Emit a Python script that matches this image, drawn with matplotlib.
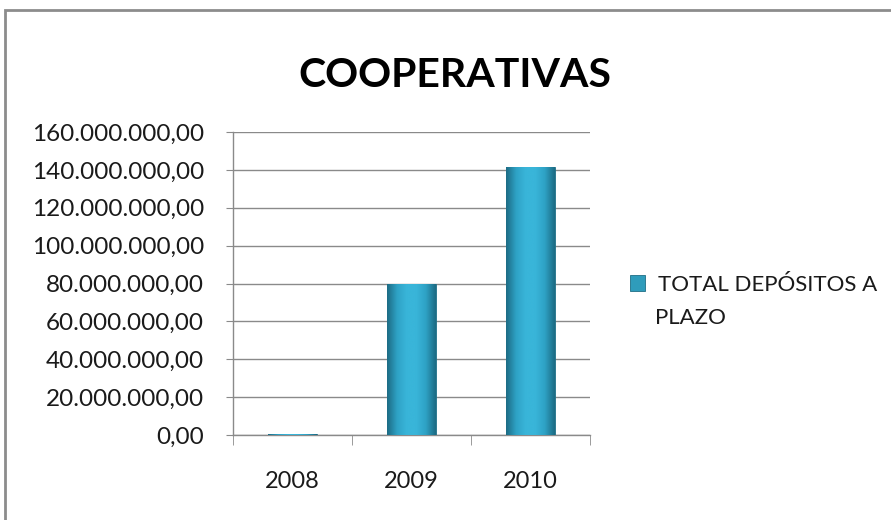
import matplotlib

matplotlib.use("Agg")
import matplotlib.pyplot as plt
import numpy as np
from matplotlib.colors import LinearSegmentedColormap
from matplotlib.patches import Rectangle
from matplotlib.ticker import FuncFormatter

# --- data ---
years = ["2008", "2009", "2010"]
total_depositos = [500000, 80000000, 141500000]
y_ticks = [0, 20e6, 40e6, 60e6, 80e6, 100e6, 120e6, 140e6, 160e6]
series_label = "TOTAL DEPÓSITOS A"
series_label_2 = "PLAZO"
title = "COOPERATIVAS"

plt.rcParams["font.family"] = ["Lato", "DejaVu Sans"]


def es_format(v, pos=None):
    s = f"{v:,.2f}"
    return s.replace(",", "X").replace(".", ",").replace("X", ".")


fig = plt.figure(figsize=(8.91, 5.20), dpi=100)
ax = fig.add_axes([0.2615, 0.1635, 0.4005, 0.5825])

# frame around the whole chart
fig.patches.append(
    Rectangle((0.006, -0.02), 1.0, 1.001, transform=fig.transFigure,
              fill=False, edgecolor="#8c8c8c", linewidth=2)
)

x = np.arange(len(years))
bars = ax.bar(x, total_depositos, width=0.41, color="#2f9cbb",
              edgecolor="#1f6e85", linewidth=0.6, zorder=3)

# horizontal gradient to mimic the cylinder look
cmap = LinearSegmentedColormap.from_list(
    "cyl", ["#1d6c85", "#2ea2c5", "#39b5d9", "#39b5d9", "#2ea2c5", "#1d6c85"])
grad = np.linspace(0, 1, 64).reshape(1, -1)
for b in bars:
    x0, w, h = b.get_x(), b.get_width(), b.get_height()
    im = ax.imshow(grad, cmap=cmap, aspect="auto", extent=(x0, x0 + w, 0, h),
                   zorder=3.5, interpolation="bicubic")
    im.set_clip_path(b)

ax.set_xlim(-0.5, len(years) - 0.5)
ax.set_ylim(0, 160e6)
ax.set_yticks(y_ticks)
ax.yaxis.set_major_formatter(FuncFormatter(es_format))
ax.set_xticks(x)
ax.set_xticklabels(years)
ax.set_xticks(np.arange(-0.5, len(years)), minor=True)

ax.grid(True, axis="y", color="#8a8a8a", linewidth=1, zorder=0)
for side in ["top", "right"]:
    ax.spines[side].set_visible(False)
for side in ["left", "bottom"]:
    ax.spines[side].set_color("#8a8a8a")
    ax.spines[side].set_linewidth(1)

ax.tick_params(axis="y", direction="out", length=5, color="#8a8a8a",
               labelsize=17.5, pad=16, labelcolor="#1a1a1a")
ax.tick_params(axis="x", which="major", length=0, labelsize=17, pad=26,
               labelcolor="#1a1a1a")
ax.tick_params(axis="x", which="minor", direction="out", length=7,
               color="#8a8a8a")

fig.text(0.511, 0.855, title, ha="center", va="center",
         fontsize=29.5, fontweight="bold")

leg = fig.legend([bars[1]], [series_label], loc="center left",
                 bbox_to_anchor=(0.707, 0.452), frameon=False, fontsize=16,
                 handlelength=0.7, handleheight=0.7, handletextpad=0.55,
                 borderpad=0, borderaxespad=0, labelcolor="#1a1a1a")
fig.text(0.735, 1 - 318 / 520, series_label_2, ha="left", va="center",
         fontsize=16, color="#1a1a1a")

fig.savefig("out.png", dpi=100)
